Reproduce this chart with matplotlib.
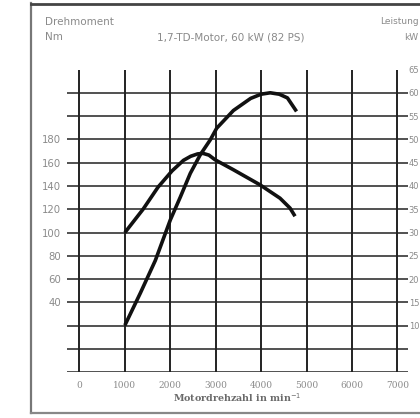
import matplotlib
matplotlib.use("Agg")
import matplotlib.pyplot as plt
from matplotlib.lines import Line2D

# Data
torque_rpm = [1000, 1200, 1400, 1730, 2040, 2290, 2450, 2600, 2720, 2850, 2985, 3386, 3975, 4416, 4637, 4747]
torque_nm = [100, 110, 120, 139, 153, 162, 165.5, 167.5, 168, 166.5, 162.5, 154, 141, 129.5, 121, 114]

power_rpm = [1000, 1340, 1670, 2000, 2220, 2440, 2660, 2880, 3022, 3390, 3770, 4000, 4200, 4400, 4580, 4780]
power_kw = [10.1, 17, 24, 32.7, 37.6, 42.7, 46.7, 49.9, 52.4, 56.2, 58.8, 59.7, 60, 59.7, 58.9, 56]

rpm_ticks = [0, 1000, 2000, 3000, 4000, 5000, 6000, 7000]
torque_ticks = list(range(-20, 241, 20))
torque_labels = ["", "", "", "40", "60", "80", "100", "120", "140", "160", "180", "", "", ""]
power_ticks = list(range(0, 66, 5))
power_labels = ["", ""] + [str(v) for v in range(10, 66, 5)]

gray = "#8a8a8a"
fig = plt.figure(figsize=(4.2, 4.18), dpi=100)
W, H = 420, 418
ax = fig.add_axes([67 / W, 1 - 372.3 / H, (408 - 67) / W, (372.3 - 69.5) / H])
ax.set_xlim(-275, 7235)
ax.set_ylim(-20, 240)
for s in ax.spines.values():
    s.set_visible(False)

# grid
for r in rpm_ticks:
    ax.axvline(r, color="#111111", lw=1.3, zorder=1)
for t in torque_ticks:
    ax.axhline(t, color="#222222", lw=1.1, zorder=1)

ax.set_xticks(rpm_ticks)
ax.set_xticklabels([str(r) for r in rpm_ticks], family="DejaVu Serif", fontsize=6.5, color=gray)
ax.tick_params(axis="x", length=0, pad=6)
ax.set_yticks(torque_ticks)
ax.set_yticklabels(torque_labels, family="DejaVu Sans", fontsize=7.3, color=gray)
ax.tick_params(axis="y", length=0, pad=4)

ax.plot(torque_rpm, torque_nm, color="#111111", lw=2.6, solid_capstyle="butt", solid_joinstyle="round", zorder=3)

ax2 = ax.twinx()
ax2.set_ylim(0, 65)
for s in ax2.spines.values():
    s.set_visible(False)
ax2.set_yticks(power_ticks)
ax2.set_yticklabels(power_labels, family="DejaVu Sans", fontsize=6, color=gray)
ax2.tick_params(axis="y", length=0, pad=0.5)
ax2.plot(power_rpm, power_kw, color="#111111", lw=2.6, solid_capstyle="butt", solid_joinstyle="round", zorder=3)

ax.set_xlabel("Motordrehzahl in min$^{-1}$", family="DejaVu Serif", fontsize=6.8,
              color="#6a6a6a", labelpad=1, fontweight="bold")

# header texts
hs = 7.5
fig.text(45 / W, 1 - 22 / H, "Drehmoment", fontsize=hs, color=gray, va="center", ha="left")
fig.text(45 / W, 1 - 37 / H, "Nm", fontsize=hs, color=gray, va="center", ha="left")
fig.text(157 / W, 1 - 37 / H, "1,7-TD-Motor, 60 kW (82 PS)", fontsize=hs, color=gray, va="center", ha="left")
fig.text(380 / W, 1 - 22 / H, "Leistung", fontsize=6.5, color=gray, va="center", ha="left")
fig.text(404 / W, 1 - 37 / H, "kW", fontsize=6.5, color=gray, va="center", ha="left")

# outer frame
fig.add_artist(Line2D([31 / W, 31 / W], [1 - 3 / H, 1 - 413 / H], color="#777777", lw=1.6))
fig.add_artist(Line2D([31 / W, 1.0], [1 - 4 / H, 1 - 4 / H], color="#444444", lw=2.0))
fig.add_artist(Line2D([31 / W, 1.0], [1 - 413 / H, 1 - 413 / H], color="#888888", lw=1.6))

fig.savefig("out.png", dpi=100)
